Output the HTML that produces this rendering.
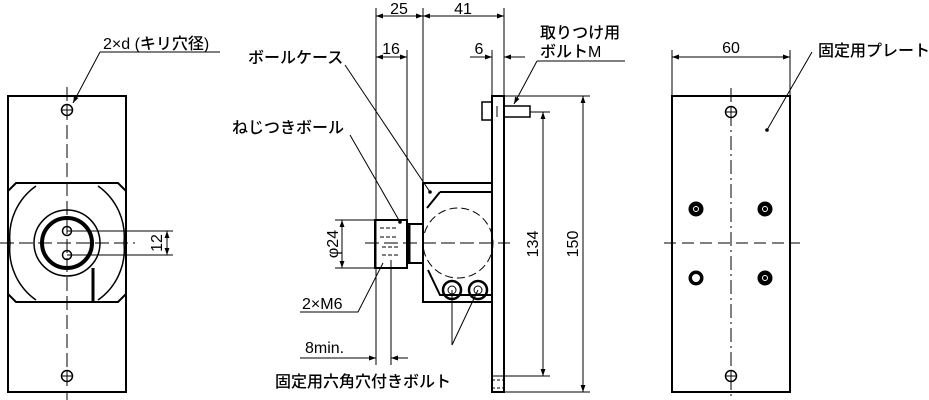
<!DOCTYPE html>
<html><head><meta charset="utf-8"><style>
body{margin:0;background:#fff}
svg{display:block}
text{font-family:"Liberation Sans","Noto Sans CJK JP",sans-serif;font-size:16px;fill:#000;font-weight:500}
</style></head><body>
<svg width="929" height="400" viewBox="0 0 929 400" xmlns="http://www.w3.org/2000/svg">
<defs>
<marker id="a" viewBox="0 0 10 10" refX="10" refY="5" markerWidth="9" markerHeight="7" orient="auto-start-reverse" markerUnits="userSpaceOnUse"><path d="M0,1.5 L10,5 L0,8.5 z" fill="#000"/></marker>
</defs>
<g fill="none" stroke="#000" stroke-width="1">
<!-- LEFT VIEW -->
<rect x="8" y="96" width="118" height="296" stroke-width="2"/>
<path d="M16,183 H118 L126,191 V294 L118,302 H16 L8,294 V191 Z" stroke-width="2"/>
<path d="M36,186 A62,62 0 0 0 10,243 A62,62 0 0 0 36,300" stroke-width="1.5"/>
<path d="M98,186 A62,62 0 0 1 124,243 A62,62 0 0 1 98,300" stroke-width="1.5"/>
<circle cx="67" cy="243" r="33" stroke-width="1.5"/>
<circle cx="67" cy="243" r="25" stroke-width="4"/>
<line x1="93" y1="268" x2="93" y2="302" stroke-width="3"/>
<circle cx="67" cy="110" r="5.5" stroke-width="1.5"/><path d="M61,110H73M67,104V116"/>
<circle cx="67" cy="376" r="5.5" stroke-width="1.5"/><path d="M61,376H73M67,370V382"/>
<circle cx="67" cy="231" r="4.5" stroke-width="1.5"/>
<circle cx="67" cy="255" r="4.5" stroke-width="1.5"/>
<line x1="67" y1="87" x2="67" y2="400" stroke-dasharray="14,5"/>
<line x1="0" y1="243" x2="135" y2="243" stroke-dasharray="14,5"/>
<path d="M67,231H173M67,255H173"/>
<line x1="167" y1="231" x2="167" y2="255" marker-start="url(#a)" marker-end="url(#a)"/>
<path d="M100,52H220"/>
<line x1="100" y1="52" x2="73" y2="103" marker-end="url(#a)"/>

<!-- MIDDLE VIEW -->
<rect x="492" y="96" width="12" height="296" stroke-width="2"/>
<rect x="482" y="102" width="10" height="18" stroke-width="1.5"/>
<rect x="504" y="106" width="26" height="11" stroke-width="1.5"/>
<path d="M492,106V117M497,106V117" />
<path d="M423,183H492V302H423Z" stroke-width="2"/>
<path d="M440,192H492M440,192L427,208 M428,270L440,295H492" stroke-width="2"/>
<circle cx="458" cy="243" r="35" stroke-dasharray="8,4"/>
<rect x="375" y="220" width="32" height="48" stroke-width="2"/>
<rect x="407" y="224" width="16" height="39" stroke-width="2"/>
<path d="M409,224V263" stroke-width="3"/>
<path d="M380,228H398M380,237H398M382,247H398M382,255H398" stroke-dasharray="4,2"/>
<circle cx="452" cy="290" r="9" stroke-width="2.5"/><circle cx="452" cy="290" r="4"/>
<circle cx="478" cy="290" r="9" stroke-width="2.5"/><circle cx="478" cy="290" r="4"/>
<line x1="365" y1="243" x2="510" y2="243" stroke-dasharray="14,5"/>
<path d="M376,8V365M423,8V183M504,8V96M407,50V224M492,50V96M391,260V365"/>
<line x1="376" y1="16" x2="423" y2="16" marker-start="url(#a)" marker-end="url(#a)"/>
<line x1="423" y1="16" x2="504" y2="16" marker-start="url(#a)" marker-end="url(#a)"/>
<line x1="376" y1="57" x2="407" y2="57" marker-start="url(#a)" marker-end="url(#a)"/>
<line x1="470" y1="57" x2="492" y2="57" marker-end="url(#a)"/>
<line x1="525" y1="57" x2="504" y2="57" marker-end="url(#a)"/>
<path d="M504,96H590M530,112H550M492,376H550M504,392H590"/>
<line x1="543" y1="112" x2="543" y2="376" marker-start="url(#a)" marker-end="url(#a)"/>
<line x1="583" y1="96" x2="583" y2="392" marker-start="url(#a)" marker-end="url(#a)"/>
<path d="M335,220H375M335,268H375"/>
<line x1="342" y1="220" x2="342" y2="268" marker-start="url(#a)" marker-end="url(#a)"/>
<line x1="300" y1="358" x2="376" y2="358" marker-end="url(#a)"/>
<line x1="408" y1="358" x2="391" y2="358" marker-end="url(#a)"/>
<path d="M492,380H504M492,388H504" stroke-dasharray="3,2"/>
<line x1="345" y1="65" x2="430" y2="192"/>
<line x1="350" y1="135" x2="400" y2="222"/>
<path d="M300,312H358L383,263"/>
<path d="M452,290L452,345M478,290L452,345"/>
<path d="M537,61H625"/>
<line x1="537" y1="61" x2="514" y2="104" marker-end="url(#a)"/>

<!-- RIGHT VIEW -->
<rect x="672" y="96" width="118" height="296" stroke-width="2"/>
<line x1="731" y1="88" x2="731" y2="400" stroke-dasharray="14,4,2,4"/>
<line x1="664" y1="243" x2="800" y2="243" stroke-dasharray="12,6"/>
<circle cx="731" cy="112" r="5.5" stroke-width="1.5"/><path d="M725,112H737M731,106V118"/>
<circle cx="731" cy="376" r="5.5" stroke-width="1.5"/><path d="M725,376H737M731,370V382"/>
<path d="M672,50V96M790,50V96"/>
<line x1="672" y1="57" x2="790" y2="57" marker-start="url(#a)" marker-end="url(#a)"/>
<line x1="812" y1="52" x2="767" y2="130"/>
</g>
<g fill="#000">
<circle cx="767" cy="130" r="1.8"/>
<circle cx="696" cy="209" r="7.5"/><circle cx="765" cy="209" r="7.5"/>
<circle cx="696" cy="278" r="7.5"/><circle cx="765" cy="278" r="7.5"/>
<circle cx="400" cy="222" r="1.8"/><circle cx="430" cy="192" r="1.8"/>
</g>
<g fill="none" stroke="#fff" stroke-width="1">
<circle cx="696" cy="209" r="2.5"/><circle cx="765" cy="209" r="2.5"/>
<circle cx="765" cy="278" r="2.5"/>
</g>
<circle cx="696" cy="278" r="4" fill="#fff"/>
<text x="103" y="49">2×d (キリ穴径)</text>
<text transform="translate(162,243) rotate(-90)" text-anchor="middle">12</text>
<text x="248" y="63">ボールケース</text>
<text x="232" y="133">ねじつきボール</text>
<text transform="translate(338,244) rotate(-90)" text-anchor="middle">φ24</text>
<text x="302" y="309">2×M6</text>
<text x="305" y="353">8min.</text>
<text x="275" y="387">固定用六角穴付きボルト</text>
<text x="399" y="14" text-anchor="middle">25</text>
<text x="463" y="14" text-anchor="middle">41</text>
<text x="391" y="54" text-anchor="middle">16</text>
<text x="479" y="54" text-anchor="middle">6</text>
<text x="540" y="38">取りつけ用</text>
<text x="540" y="57">ボルトM</text>
<text transform="translate(538,244) rotate(-90)" text-anchor="middle">134</text>
<text transform="translate(578,244) rotate(-90)" text-anchor="middle">150</text>
<text x="731" y="53" text-anchor="middle">60</text>
<text x="818" y="56">固定用プレート</text>
</svg>
</body></html>
